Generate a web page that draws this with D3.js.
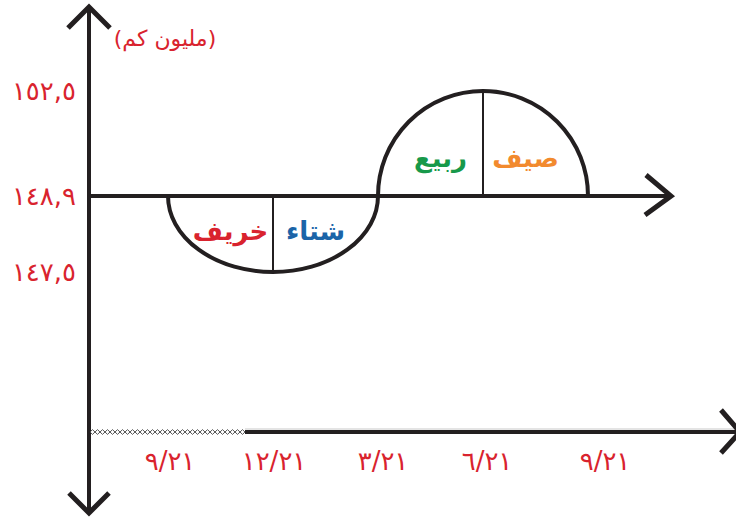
<!DOCTYPE html>
<html lang="ar">
<head>
<meta charset="utf-8">
<script src="https://d3js.org/d3.v7.min.js"></script>
<style>
  body { margin: 0; background: #fff; }
  svg { display: block; }
  text { font-family: "DejaVu Sans", sans-serif; }
</style>
</head>
<body>
<script>
  var width = 736, height = 521;

  // data: quarters (equinox / solstice dates) and sun-earth distance (million km)
  var quarterLabels = ["٩/٢١", "١٢/٢١", "٣/٢١", "٦/٢١", "٩/٢١"];
  var distances = [148.9, 147.5, 148.9, 152.5, 148.9];
  var yTicks = [152.5, 148.9, 147.5];
  var yTickLabels = ["١٥٢,٥", "١٤٨,٩", "١٤٧,٥"];
  var seasons = ["خريف", "شتاء", "ربيع", "صيف"];
  var seasonColors = ["#d9232e", "#1b64a8", "#17994a", "#f28a2e"];
  var unitLabel = "(مليون كم)";
  var baseline = 148.9;

  var svg = d3.select("body").append("svg")
    .attr("width", width)
    .attr("height", height);

  // scales
  var x = d3.scaleLinear().domain([0, 4]).range([168, 588]);
  var y = d3.scaleLinear().domain([147.5, 148.9, 152.5]).range([272, 196, 91]);

  var ink = "#231f20";
  var red = "#d9232e";
  var axisX = 89;

  // chain pattern for the dotted part of the lower axis
  var pat = svg.append("defs").append("pattern")
    .attr("id", "chain")
    .attr("patternUnits", "userSpaceOnUse")
    .attr("width", 5).attr("height", 6)
    .attr("y", 429);
  pat.append("path")
    .attr("d", "M0,3 L2.5,0.6 L5,3 L2.5,5.4 Z")
    .attr("fill", "none")
    .attr("stroke", "#444")
    .attr("stroke-width", 0.9);

  // vertical axis with arrows both ends
  svg.append("line")
    .attr("x1", axisX).attr("x2", axisX)
    .attr("y1", 8).attr("y2", 512)
    .attr("stroke", ink).attr("stroke-width", 4);

  function chevron(points) {
    svg.append("path")
      .attr("d", d3.line()(points))
      .attr("fill", "none")
      .attr("stroke", ink)
      .attr("stroke-width", 5);
  }
  chevron([[68, 28], [89, 7], [110, 28]]);
  chevron([[69, 493], [89, 513], [109, 493]]);

  // upper horizontal axis (baseline)
  svg.append("line")
    .attr("x1", axisX).attr("x2", 670)
    .attr("y1", y(baseline)).attr("y2", y(baseline))
    .attr("stroke", ink).attr("stroke-width", 4);
  chevron([[646, 175], [671, 196], [645, 215]]);

  // lower time axis
  var lowY = 432;
  svg.append("rect")
    .attr("x", axisX + 1).attr("y", lowY - 3)
    .attr("width", 245 - axisX - 1).attr("height", 6)
    .attr("fill", "url(#chain)");
  svg.append("line")
    .attr("x1", 245).attr("x2", 740)
    .attr("y1", lowY).attr("y2", lowY)
    .attr("stroke", ink).attr("stroke-width", 4);
  svg.append("line")
    .attr("x1", 245).attr("x2", 740)
    .attr("y1", lowY - 3).attr("y2", lowY - 3)
    .attr("stroke", "#bbb").attr("stroke-width", 0.8);
  chevron([[721, 410], [740, 432], [721, 453]]);

  // date labels
  var labelShift = [2, 1, 5, 4, 17];
  svg.selectAll(".qlabel")
    .data(quarterLabels)
    .join("text")
    .attr("class", "qlabel")
    .attr("x", function (d, i) { return x(i) + labelShift[i]; })
    .attr("y", 470)
    .attr("text-anchor", "middle")
    .attr("fill", red)
    .attr("font-size", 26)
    .attr("letter-spacing", 2)
    .text(function (d) { return d; });

  // y tick labels
  svg.selectAll(".ylabel")
    .data(yTicks)
    .join("text")
    .attr("class", "ylabel")
    .attr("x", 76)
    .attr("y", function (d) { return y(d) + 9; })
    .attr("text-anchor", "end")
    .attr("fill", red)
    .attr("font-size", 26)
    .attr("letter-spacing", 3.5)
    .text(function (d, i) { return yTickLabels[i]; });

  svg.append("text")
    .attr("x", 165).attr("y", 46)
    .attr("direction", "rtl")
    .attr("text-anchor", "middle")
    .attr("fill", red)
    .attr("font-size", 22)
    .text(unitLabel);

  // divider lines at the solstices
  [1, 3].forEach(function (i) {
    svg.append("line")
      .attr("x1", x(i)).attr("x2", x(i))
      .attr("y1", y(baseline)).attr("y2", y(distances[i]))
      .attr("stroke", ink).attr("stroke-width", 2);
  });

  // orbit curve: quarter-ellipse arcs between the data points
  var pathStr = "M" + x(0) + "," + y(distances[0]);
  for (var i = 1; i < distances.length; i++) {
    var x0 = x(i - 1), y0 = y(distances[i - 1]);
    var x1 = x(i), y1 = y(distances[i]);
    var rx = Math.abs(x1 - x0);
    var ry = Math.abs(y1 - y0);
    var above = Math.max(distances[i - 1], distances[i]) > baseline;
    pathStr += " A" + rx + "," + ry + " 0 0," + (above ? 1 : 0) + " " + x1 + "," + y1;
  }
  svg.append("path")
    .attr("d", pathStr)
    .attr("fill", "none")
    .attr("stroke", ink)
    .attr("stroke-width", 4);

  // season names, pushed toward the solstice divider of their half
  svg.selectAll(".season")
    .data(seasons)
    .join("text")
    .attr("class", "season")
    .attr("x", function (d, i) { return x(i + 0.5) + (i % 2 === 0 ? 10 : -10); })
    .attr("y", function (d, i) { return i < 2 ? 240 : 167; })
    .attr("text-anchor", "middle")
    .attr("direction", "rtl")
    .attr("fill", function (d, i) { return seasonColors[i]; })
    .attr("font-size", 26)
    .attr("font-weight", "bold")
    .text(function (d) { return d; });
</script>
</body>
</html>
